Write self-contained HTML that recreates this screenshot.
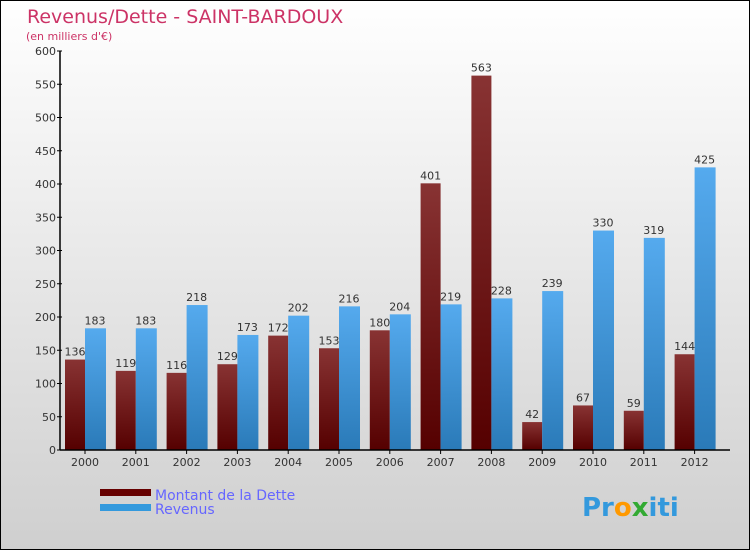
<!DOCTYPE html>
<html><head><meta charset="utf-8"><style>
body{margin:0}
svg{display:block;font-family:"DejaVu Sans","Liberation Sans",sans-serif}
</style></head><body>
<svg width="750" height="550" viewBox="0 0 750 550">
<defs>
<linearGradient id="bg" x1="0" y1="0" x2="0" y2="1"><stop offset="0" stop-color="#ffffff"/><stop offset="1" stop-color="#cfcfcf"/></linearGradient>
<linearGradient id="gd" x1="0" y1="0" x2="0" y2="1"><stop offset="0" stop-color="#883333"/><stop offset="1" stop-color="#550000"/></linearGradient>
<linearGradient id="gr" x1="0" y1="0" x2="0" y2="1"><stop offset="0" stop-color="#55aaee"/><stop offset="1" stop-color="#2a7ab8"/></linearGradient>
</defs>
<rect x="0.5" y="0.5" width="749" height="549" fill="url(#bg)" stroke="#000"/>
<text x="27" y="23" font-size="19" fill="#cc3366">Revenus/Dette - SAINT-BARDOUX</text>
<text x="26" y="40" font-size="11" fill="#cc3366">(en milliers d'€)</text>
<g id="yaxis"></g>
<g id="bars"></g>
<g id="xaxis"></g>
<g>
<rect x="100" y="489" width="51" height="7" fill="#660000"/>
<text x="155" y="500" font-size="14" fill="#6666ff">Montant de la Dette</text>
<rect x="100" y="504" width="51" height="7" fill="#3399dd"/>
<text x="155" y="514" font-size="14" fill="#6666ff">Revenus</text>
</g>
<text x="582" y="516" font-size="26" font-weight="bold"><tspan fill="#3399dd">Pr</tspan><tspan fill="#ff9900">o</tspan><tspan fill="#33aa33">x</tspan><tspan fill="#3399dd">iti</tspan></text>
</svg>
<script>
const years=["2000","2001","2002","2003","2004","2005","2006","2007","2008","2009","2010","2011","2012"];
const debt=[136,119,116,129,172,153,180,401,563,42,67,59,144];
const revenue=[183,183,218,173,202,216,204,219,228,239,330,319,425];
const yTicks=[0,50,100,150,200,250,300,350,400,450,500,550,600];
const NS="http://www.w3.org/2000/svg";
const y0=450,yTop=51,yMax=600;
const yS=v=>y0-v*(y0-yTop)/yMax;
const xC=i=>85+i*50.8;
function mk(tag,attrs,parent){const e=document.createElementNS(NS,tag);for(const k in attrs)e.setAttribute(k,attrs[k]);parent.appendChild(e);return e;}
const ya=document.getElementById('yaxis'),bg=document.getElementById('bars'),xa=document.getElementById('xaxis');
mk('line',{x1:60,y1:yTop,x2:60,y2:y0,stroke:'#000','stroke-width':1.5},ya);
yTicks.forEach(v=>{
 const l=mk('line',{x1:57,y1:yS(v),x2:62,y2:yS(v),stroke:'#000'},ya);
 
 
 const t=mk('text',{x:56,y:yS(v)+4,'font-size':11,fill:'#333','text-anchor':'end'},ya);
 t.textContent=v;
 
 
});
years.forEach((yr,i)=>{
 const c=xC(i);
 const d=mk('rect',{x:c-20,y:yS(debt[i]),width:20,height:y0-yS(debt[i]),fill:'url(#gd)'},bg);
 
 
 const r=mk('rect',{x:c,y:yS(revenue[i]),width:21,height:y0-yS(revenue[i]),fill:'url(#gr)'},bg);
 
 
 const dl=mk('text',{x:c-10,y:yS(debt[i])-4,'font-size':11,fill:'#333','text-anchor':'middle'},bg);
 dl.textContent=debt[i];
 
 
 const rl=mk('text',{x:c+10,y:yS(revenue[i])-4,'font-size':11,fill:'#333','text-anchor':'middle'},bg);
 rl.textContent=revenue[i];
 
 
 const tk=mk('line',{x1:c,y1:y0,x2:c,y2:y0+4,stroke:'#000'},xa);
 
 
 const xl=mk('text',{x:c,y:466,'font-size':11,fill:'#333','text-anchor':'middle'},xa);
 xl.textContent=yr;
 
 
});
mk('line',{x1:60,y1:y0,x2:730,y2:y0,stroke:'#000','stroke-width':1.5},xa);
</script>
</body></html>
